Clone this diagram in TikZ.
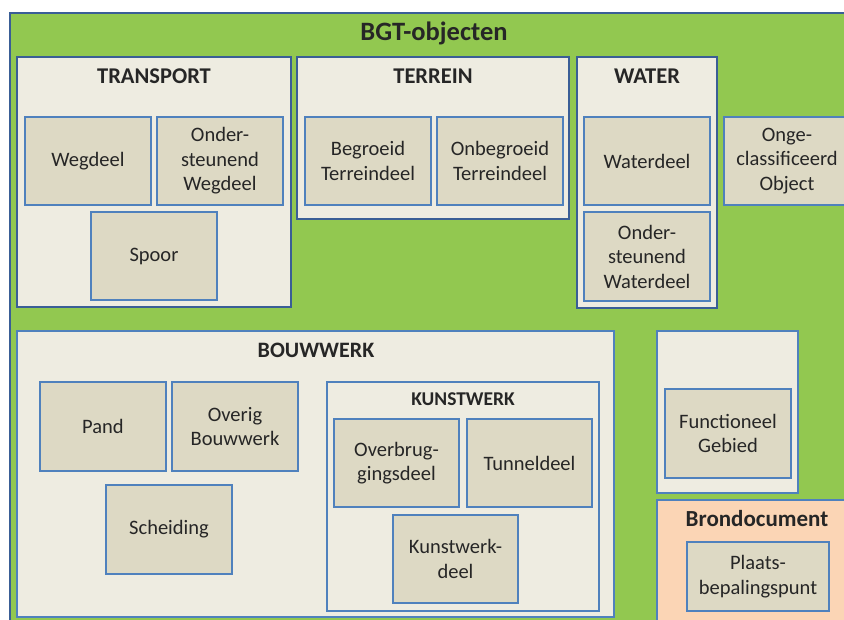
\documentclass[tikz,border=0pt]{standalone}
\usepackage{fontspec}
\setmainfont{Carlito}
\definecolor{bgtgreen}{HTML}{92C850}
\definecolor{darkedge}{HTML}{3A5E96}
\definecolor{lightedge}{HTML}{4F81BD}
\definecolor{cream}{HTML}{EEECE1}
\definecolor{tan}{HTML}{DDD9C4}
\definecolor{peach}{HTML}{FBD5B5}
\definecolor{ink}{HTML}{262626}
\tikzset{
  groupbox/.style={draw=darkedge, line width=2.4pt, fill=cream, inner sep=0pt},
  subgroup/.style={draw=lightedge, line width=1.6pt, fill=cream, inner sep=0pt},
  itembox/.style={draw=lightedge, line width=1.6pt, fill=tan, inner sep=0pt,
    minimum width=126pt, minimum height=88pt, align=center, text=ink,
    font=\fontsize{20.5}{24.5}\selectfont},
  grouptitle/.style={font=\fontsize{22.5}{26}\selectfont\bfseries, text=ink, inner sep=0pt},
}
\begin{document}
\begin{tikzpicture}[x=1pt,y=-1pt]
\useasboundingbox (0,0) rectangle (844,619);
\begin{scope}
\clip (0,0) rectangle (844,619);
% outer
\node[draw=darkedge, line width=2.4pt, fill=bgtgreen, minimum width=840pt, minimum height=612pt, inner sep=0pt] (outer) at (430,319) {};
\node[grouptitle, font=\fontsize{26.5}{30}\selectfont\bfseries] (bgt) at (434,33) {BGT-objecten};
% TRANSPORT
\node[groupbox, minimum width=274pt, minimum height=250pt] (transport) at (154,182) {};
\node[grouptitle] (transportt) at (154,76) {TRANSPORT};
\node[itembox] (wegdeel) at (88,161) {Wegdeel};
\node[itembox] (owegdeel) at (220,161) {Onder-\\steunend\\Wegdeel};
\node[itembox] (spoor) at (154,256) {Spoor};
% TERREIN
\node[groupbox, minimum width=272pt, minimum height=162pt] (terrein) at (433,138) {};
\node[grouptitle] (terreint) at (433,76) {TERREIN};
\node[itembox] (begroeid) at (368,161) {Begroeid\\Terreindeel};
\node[itembox] (onbegroeid) at (500,161) {Onbegroeid\\Terreindeel};
% WATER
\node[groupbox, minimum width=140pt, minimum height=251pt] (water) at (647,182.5) {};
\node[grouptitle] (watert) at (647,76) {WATER};
\node[itembox] (waterdeel) at (647,161) {Waterdeel};
\node[itembox, minimum height=89pt] (owaterdeel) at (647,256.5) {Onder-\\steunend\\Waterdeel};
% Ongeclassificeerd
\node[itembox] (onge) at (787,161) {Onge-\\classificeerd\\Object};
% BOUWWERK
\node[subgroup, minimum width=597pt, minimum height=286pt] (bouwwerk) at (315.5,474) {};
\node[grouptitle, font=\fontsize{22}{26}\selectfont\bfseries] (bouwwerkt) at (316,350) {BOUWWERK};
\node[itembox, minimum height=89pt] (pand) at (103,426.5) {Pand};
\node[itembox, minimum height=89pt] (overig) at (235,426.5) {Overig\\Bouwwerk};
\node[itembox, minimum height=89pt] (scheiding) at (169,529.5) {Scheiding};
% KUNSTWERK
\node[subgroup, minimum width=272pt, minimum height=229pt] (kunstwerk) at (463,496.5) {};
\node[grouptitle, font=\fontsize{19.5}{22}\selectfont\bfseries] (kunstwerkt) at (463,399) {KUNSTWERK};
\node[itembox, minimum width=125pt] (overbrug) at (396.5,463) {Overbrug-\\gingsdeel};
\node[itembox, minimum width=125pt] (tunnel) at (529.5,463) {Tunneldeel};
\node[itembox, minimum width=125pt] (kwdeel) at (455.5,559) {Kunstwerk-\\deel};
% Functioneel gebied
\node[subgroup, minimum width=141pt, minimum height=162pt] (fgbox) at (727.5,412) {};
\node[itembox, minimum height=89pt] (fg) at (728,433.5) {Functioneel\\Gebied};
% Brondocument
\node[subgroup, fill=peach, minimum width=203pt, minimum height=140pt] (bron) at (758.5,570) {};
\node[grouptitle, font=\fontsize{23}{26}\selectfont\bfseries] (bront) at (757,519) {Brondocument};
\node[itembox, minimum width=142pt, minimum height=69pt] (plaats) at (758,576.5) {Plaats-\\bepalingspunt};
\end{scope}
\end{tikzpicture}
\end{document}
